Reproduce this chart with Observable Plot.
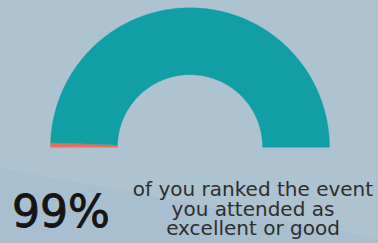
<!DOCTYPE html>
<html>
<head>
<meta charset="utf-8">
<script src="https://cdn.jsdelivr.net/npm/d3@7"></script>
<script src="https://cdn.jsdelivr.net/npm/@observablehq/plot@0.6"></script>
<style>
  html, body { margin: 0; padding: 0; }
  body { width: 378px; height: 243px; overflow: hidden; background: #adc3cf; position: relative; }
  #band { position: absolute; left: 0; top: 0; width: 378px; height: 243px; background: #a8bfcf;
          clip-path: polygon(0 168px, 378px 238px, 378px 243px, 0 243px); }
  #chart { position: absolute; left: 0; top: 0; }
  #big { position: absolute; left: 12px; top: 187px; font-family: "DejaVu Sans", sans-serif; font-weight: 400;
         font-size: 44px; line-height: 50px; color: #151515; -webkit-text-stroke: 0.9px #151515; white-space: nowrap; }
  #cap { position: absolute; left: 128px; width: 250px; top: 180px; text-align: center;
         font-family: "DejaVu Sans", sans-serif; font-size: 20px; line-height: 19.5px; color: #2e2e2e; white-space: nowrap; }
</style>
</head>
<body>
<div id="band"></div>
<div id="chart"></div>
<div id="big"></div>
<div id="cap"></div>
<script>
const categories = ["Other", "Excellent or good"];
const values = [1, 99];
const colors = ["#e8705a", "#119ea4"];
const bigLabel = "99%";
const captionLines = ["of you ranked the event", "you attended as", "excellent or good"];
const innerRatio = 0.52;

const total = d3.sum(values);
function ringPolygon(f0, f1, r0, r1) {
  const n = Math.max(4, Math.ceil((f1 - f0) * 200));
  const pts = [];
  for (let i = 0; i <= n; i++) {
    const a = Math.PI * (1 - (f0 + (f1 - f0) * i / n));
    pts.push([r1 * Math.cos(a), r1 * Math.sin(a)]);
  }
  for (let i = n; i >= 0; i--) {
    const a = Math.PI * (1 - (f0 + (f1 - f0) * i / n));
    pts.push([r0 * Math.cos(a), r0 * Math.sin(a)]);
  }
  pts.push(pts[0]);
  return pts;
}
let acc = 0;
const features = categories.map((c, i) => {
  const f0 = acc / total; acc += values[i]; const f1 = acc / total;
  return {type: "Feature", properties: {name: c, value: values[i]},
          geometry: {type: "Polygon", coordinates: [ringPolygon(f0, f1, innerRatio, 1)]}};
});

const plot = Plot.plot({
  width: 378,
  height: 150,
  marginLeft: 50,
  marginRight: 49,
  marginTop: 7,
  marginBottom: 3,
  style: {background: "transparent"},
  projection: {type: "reflect-y", domain: {type: "MultiPoint", coordinates: [[-1, 0], [1, 0], [0, 1]]}},
  color: {domain: categories, range: colors},
  marks: [
    Plot.geo(features, {fill: d => d.properties.name, stroke: d => d.properties.name, strokeWidth: 0.3})
  ]
});
document.getElementById("chart").appendChild(plot);
document.getElementById("big").textContent = bigLabel;
document.getElementById("cap").innerHTML = captionLines.map(s => `<div>${s}</div>`).join("");
</script>
</body>
</html>
